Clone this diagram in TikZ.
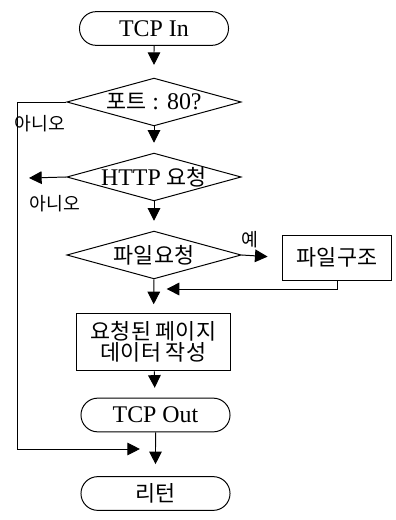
\documentclass[tikz,border=0pt]{standalone}
\usepackage{fontspec}
\setmainfont{Liberation Serif}
\newfontfamily\kr{Noto Sans CJK KR}
\usepackage{tikz}
\usetikzlibrary{arrows.meta,shapes.geometric,shapes.misc}

\newcommand\krtxt[1]{{\kr\fontsize{15.5}{16}\selectfont #1}}

\tikzset{
	flow/.style={line width=0.7pt},
	arr/.style={flow, -{Triangle[length=9pt,width=9pt]}, shorten >=7pt},
	term/.style={draw, flow, rounded rectangle, minimum width=106pt, minimum height=24pt, inner sep=0pt, font=\fontsize{17}{20}\selectfont},
	dia/.style={draw, flow, diamond, minimum width=124pt, minimum height=34pt, inner sep=0pt, font=\fontsize{17}{20}\selectfont},
	proc/.style={draw, flow, rectangle, inner sep=0pt, align=center, font=\fontsize{15.5}{15}\selectfont\kr},
	lbl/.style={font=\fontsize{13}{14}\selectfont\kr, inner sep=0pt}
}

\begin{document}
\begin{tikzpicture}[x=0.025cm, y=-0.025cm]
			%%%%% START %%%%%
			\useasboundingbox (0, 0) rectangle (395, 520);
			
			\node[term] (tin) at (154, 28.5) {TCP In};
			\node[dia] (port) at (154, 102) {\makebox[0pt]{\krtxt{포트} : 80?}};
			\node[dia] (http) at (154, 177) {\makebox[0pt]{HTTP \krtxt{요청}}};
			\node[dia] (file) at (154, 255) {\makebox[0pt]{\krtxt{파일요청}}};
			\node[proc, minimum width=78pt, minimum height=32pt] (fstruct) at (337, 257.5) {파일구조};
			\node[proc, minimum width=110pt, minimum height=41pt] (page) at (153.5, 342) {요청된 페이지\\데이터 작성};
			\node[term] (tout) at (155.5, 415) {TCP Out};
			\node[term] (ret) at (155.5, 493.5) {\krtxt{리턴}};
			
			\node[lbl] (no1) at (40, 124) {아니오};
			\node[lbl] (no2) at (55, 204) {아니오};
			\node[lbl] (yes) at (250, 240) {예};
			
			\coordinate (nope) at (29, 178);
			\coordinate (merge) at (154, 289);
			\coordinate (lft) at (17, 449);
			\coordinate (join) at (154, 449);
			
			\draw[arr, shorten >=9pt] (tin) -- (port);
			\draw[arr] (port) -- (http);
			\draw[arr] (http) -- (file);
			\draw[arr, shorten >=6pt] (file) -- (page);
			\draw[arr] (page) -- (tout);
			\draw[arr, shorten >=8.5pt] (tout) -- (ret);
			
			\draw[arr, shorten >=10pt] (file.east) -- (fstruct.west);
			\draw[arr, shorten >=9pt] (fstruct.south) |- (merge);
			\draw[arr, shorten >=0pt] (http.west) -- (nope);
			\draw[arr, shorten >=10pt] (port.west) -| (lft) -- (join);
			
			%%%%% END %%%%%
\end{tikzpicture}
\end{document}
